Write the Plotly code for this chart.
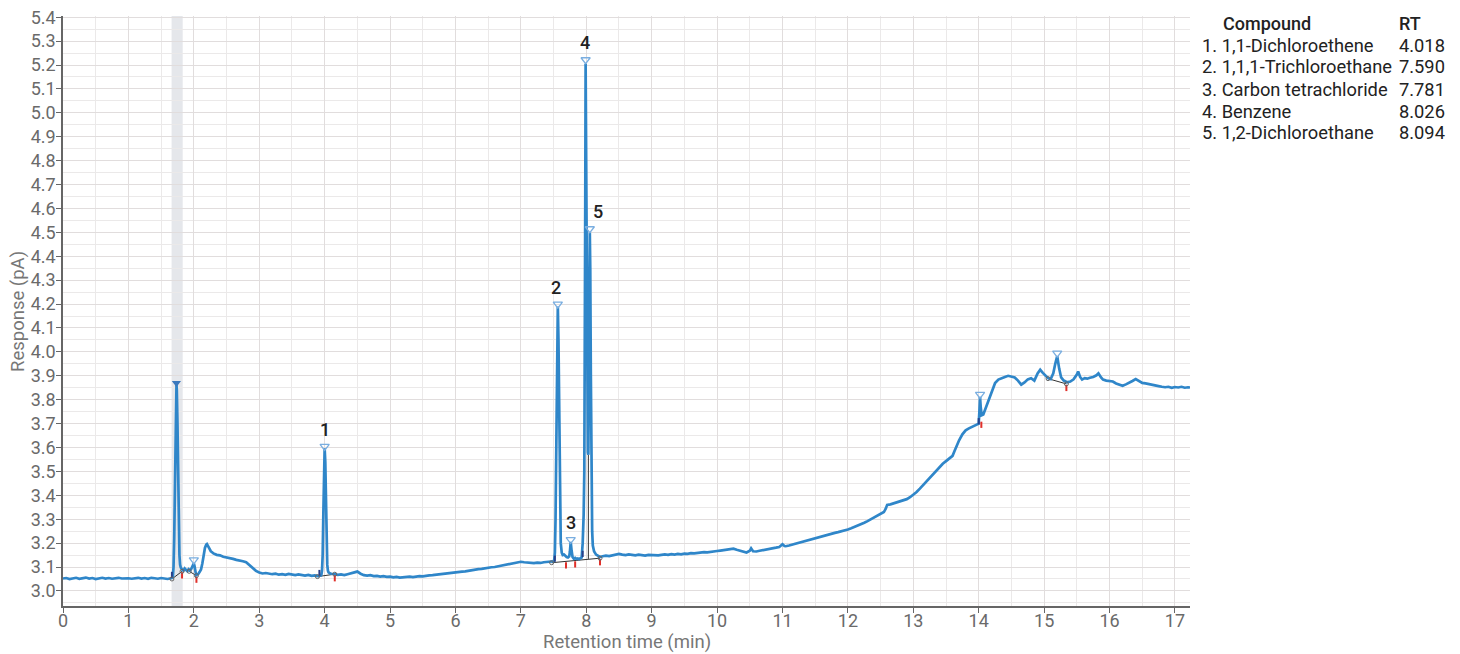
import plotly.graph_objects as go

# ---------------- data ----------------
rt_pre = [0.00,0.05,0.10,0.15,0.20,0.25,0.30,0.35,0.40,0.45,0.50,0.55,0.60,0.65,0.70,0.75,0.80,0.85,0.90,0.95,
          1.00,1.05,1.10,1.15,1.20,1.25,1.30,1.35,1.40,1.45,1.50,1.55,1.60,1.65]
resp_pre = [3.052,3.054,3.050,3.053,3.055,3.051,3.053,3.056,3.052,3.054,3.050,3.053,3.055,3.052,3.054,3.051,3.053,3.055,3.052,3.054,
            3.053,3.051,3.054,3.055,3.052,3.054,3.051,3.055,3.053,3.051,3.054,3.052,3.050,3.053]

rt_inj = [1.67,1.68,1.69,1.70,1.71,1.72,1.73,1.735,1.74,1.75,1.76,1.77,1.78,1.79,1.80,1.82,1.84,1.86,1.88,1.90,
          1.92,1.94,1.96,1.975,1.99,2.00,2.01,2.02,2.035,2.05,2.07,2.09,2.11,2.13,2.15,2.17,2.19,2.20,2.22,2.24,
          2.26,2.28,2.30]
resp_inj = [3.055,3.062,3.10,3.22,3.42,3.66,3.83,3.862,3.84,3.70,3.48,3.26,3.15,3.11,3.098,3.090,3.085,3.094,3.090,3.083,
            3.091,3.086,3.092,3.100,3.112,3.116,3.105,3.080,3.066,3.068,3.072,3.080,3.090,3.115,3.150,3.180,3.194,3.196,3.186,3.174,
            3.166,3.162,3.157]

rt_hump = [2.35,2.40,2.45,2.50,2.55,2.60,2.65,2.70,2.75,2.80,2.85,2.90,2.95,3.00,3.05,3.10,3.15,3.20,3.25,3.30,
           3.35,3.40,3.45,3.50,3.55,3.60,3.65,3.70,3.75,3.80,3.85,3.90,3.94]
resp_hump = [3.151,3.149,3.143,3.141,3.136,3.134,3.130,3.128,3.124,3.120,3.108,3.094,3.084,3.077,3.073,3.075,3.071,3.070,3.072,3.068,
             3.070,3.067,3.071,3.068,3.066,3.069,3.066,3.064,3.067,3.063,3.065,3.062,3.064]

rt_p1 = [3.95,3.96,3.97,3.98,3.99,4.00,4.01,4.02,4.03,4.04,4.05,4.06,4.08,4.10]
resp_p1 = [3.068,3.085,3.15,3.32,3.52,3.597,3.54,3.38,3.20,3.11,3.085,3.078,3.074,3.072]

rt_mid = [4.15,4.20,4.25,4.30,4.35,4.40,4.45,4.50,4.55,4.60,4.65,4.70,4.75,4.80,4.85,4.90,4.95,5.00,5.05,5.10,
          5.15,5.20,5.25,5.30,5.35,5.40,5.45,5.50,5.55,5.60,5.65,5.70,5.75,5.80,5.85,5.90,5.95,6.00,6.05,6.10,
          6.15,6.20,6.25,6.30,6.35,6.40,6.45,6.50,6.55,6.60,6.65,6.70,6.75,6.80,6.85,6.90,6.95,7.00,7.05,7.10,
          7.15,7.20,7.25,7.30,7.35,7.40,7.45,7.50]
resp_mid = [3.071,3.067,3.069,3.066,3.070,3.073,3.079,3.081,3.072,3.066,3.064,3.066,3.062,3.063,3.060,3.062,3.059,3.060,3.057,3.059,
            3.056,3.058,3.057,3.060,3.058,3.061,3.062,3.061,3.064,3.065,3.066,3.068,3.070,3.071,3.074,3.073,3.076,3.077,3.079,3.081,
            3.082,3.085,3.086,3.089,3.091,3.092,3.095,3.096,3.099,3.100,3.103,3.106,3.108,3.111,3.114,3.118,3.121,3.122,3.120,3.118,
            3.115,3.116,3.118,3.117,3.120,3.122,3.123,3.124]

rt_cluster = [7.51,7.52,7.53,7.545,7.555,7.565,7.575,7.585,7.595,7.61,7.625,7.64,7.66,7.68,7.70,7.72,7.74,7.75,7.762,7.775,
              7.79,7.81,7.83,7.85,7.87,7.89,7.91,7.93,7.945,7.96,7.97,7.978,7.984,7.99,7.996,8.003,8.012,8.025,8.032,8.04,
              8.047,8.054,8.061,8.07,8.08,8.09,8.10,8.12,8.15,8.18,8.21]
resp_cluster = [3.130,3.160,3.300,3.700,4.050,4.190,4.050,3.700,3.400,3.200,3.160,3.150,3.152,3.145,3.142,3.140,3.145,3.165,3.205,3.170,
                3.142,3.135,3.138,3.134,3.136,3.133,3.138,3.140,3.200,3.320,3.500,3.900,4.600,5.205,4.900,4.300,3.800,3.580,3.570,3.780,
                4.250,4.499,4.350,3.900,3.450,3.250,3.190,3.165,3.152,3.147,3.142]

rt_late = [8.25,8.30,8.35,8.40,8.45,8.50,8.55,8.60,8.65,8.70,8.75,8.80,8.85,8.90,8.95,9.00,9.05,9.10,9.15,9.20,
           9.25,9.30,9.35,9.40,9.45,9.50,9.55,9.60,9.65,9.70,9.75,9.80,9.85,9.90,9.95,10.00,10.05,10.10,10.15,10.20,
           10.25,10.30,10.35,10.40,10.45,10.50,10.52,10.55,10.60,10.65,10.70,10.75,10.80,10.85,10.90,10.95,11.00,11.03,11.05,11.10,
           11.15,11.20,11.25,11.30,11.35,11.40,11.45,11.50,11.55,11.60,11.65,11.70,11.75,11.80,11.85,11.90,11.95,12.00,12.05,12.10,
           12.15,12.20,12.25,12.30,12.35,12.40,12.45,12.50,12.55,12.58,12.60,12.65,12.70,12.75,12.80,12.85,12.90,12.95,13.00,13.05,
           13.10,13.15,13.20,13.25,13.30,13.35,13.40,13.45,13.50,13.55,13.60,13.63,13.66,13.70,13.75,13.80,13.85,13.90,13.95,14.00,
           14.01,14.02,14.03,14.045,14.07,14.10,14.15,14.20,14.25,14.30,14.35,14.40,14.45,14.50,14.55,14.60,14.65,14.70,14.75,14.80,
           14.85,14.90,14.94,14.98,15.02,15.06,15.10,15.14,15.17,15.20,15.23,15.26,15.30,15.35,15.40,15.45,15.50,15.52,15.55,15.58,
           15.62,15.66,15.70,15.75,15.80,15.83,15.87,15.90,15.95,16.00,16.05,16.10,16.15,16.20,16.25,16.30,16.35,16.40,16.45,16.50,
           16.55,16.60,16.65,16.70,16.75,16.80,16.85,16.90,16.95,17.00,17.05,17.10,17.15,17.20,17.23]
resp_late = [3.145,3.148,3.146,3.150,3.152,3.155,3.152,3.150,3.153,3.151,3.149,3.152,3.150,3.148,3.151,3.150,3.152,3.149,3.151,3.153,
             3.151,3.154,3.152,3.155,3.153,3.156,3.155,3.158,3.157,3.159,3.160,3.162,3.161,3.164,3.165,3.167,3.169,3.171,3.173,3.176,
             3.177,3.172,3.168,3.165,3.161,3.168,3.178,3.166,3.165,3.168,3.170,3.172,3.175,3.178,3.181,3.184,3.195,3.188,3.187,3.190,
             3.194,3.197,3.200,3.204,3.208,3.212,3.216,3.220,3.225,3.229,3.232,3.236,3.240,3.243,3.246,3.249,3.253,3.257,3.262,3.267,
             3.272,3.278,3.285,3.292,3.300,3.308,3.316,3.324,3.330,3.345,3.360,3.362,3.366,3.370,3.374,3.378,3.384,3.392,3.402,3.414,
             3.428,3.443,3.460,3.475,3.490,3.506,3.520,3.532,3.543,3.555,3.565,3.585,3.605,3.630,3.655,3.672,3.680,3.686,3.692,3.700,
             3.750,3.812,3.770,3.735,3.738,3.760,3.790,3.830,3.870,3.884,3.888,3.895,3.900,3.898,3.893,3.880,3.863,3.872,3.885,3.890,
             3.880,3.910,3.925,3.912,3.900,3.890,3.886,3.910,3.950,3.982,3.930,3.893,3.880,3.873,3.876,3.885,3.905,3.918,3.895,3.884,
             3.890,3.888,3.892,3.895,3.902,3.910,3.893,3.884,3.880,3.878,3.876,3.868,3.862,3.858,3.864,3.870,3.878,3.886,3.878,3.870,
             3.868,3.866,3.862,3.860,3.857,3.854,3.852,3.854,3.850,3.853,3.851,3.854,3.850,3.852,3.851]

# labelled peaks
peak_numbers = ["1", "2", "3", "4", "5"]
peak_rt_plot = [4.00, 7.565, 7.762, 7.99, 8.054]
peak_marker_y = [3.605, 4.200, 3.215, 5.222, 4.515]
compounds = ["1,1-Dichloroethene", "1,1,1-Trichloroethane", "Carbon tetrachloride", "Benzene", "1,2-Dichloroethane"]
rt_table = ["4.018", "7.590", "7.781", "8.026", "8.094"]

# unlabelled detected peaks
other_peak_rt = [2.00, 14.02, 15.20]
other_peak_y = [3.130, 3.822, 3.995]
solvent_peak_rt = [1.734]
solvent_peak_y = [3.870]

# integration baselines (start, end) and drop line
base_t0 = [1.665, 1.93, 3.89, 7.47, 15.06]
base_v0 = [3.050, 3.082, 3.060, 3.118, 3.888]
base_t1 = [1.82, 2.04, 4.155, 8.21, 15.34]
base_v1 = [3.082, 3.064, 3.070, 3.137, 3.866]
red_tick_t = [1.82, 2.04, 4.155, 7.69, 7.83, 8.21, 14.04, 15.34]
red_tick_v = [3.082, 3.064, 3.070, 3.124, 3.128, 3.137, 3.712, 3.866]
blue_tick_t = [1.665, 3.92, 7.52, 7.945, 14.00]
blue_tick_v = [3.062, 3.070, 3.130, 3.150, 3.705]
drop_t = [8.032]
drop_v = [3.134, 3.570]

band_range = [1.66, 1.83]

# ---------------- figure ----------------
# the page body adds an 8 px margin, so the figure is 8 px smaller and positions are given in screen px
OFF = 8
W, H = 1460 - OFF, 654 - OFF
L, T = 63 - OFF, 16 - OFF
R = W - (1190 - OFF)
B = H - (606 - OFF)
PW, PH = W - L - R, H - T - B

def px(xs):
    return (xs - OFF - L) / PW

def py(ys):
    return (H - B - (ys - OFF)) / PH

rt_all = rt_pre + rt_inj + rt_hump + rt_p1 + rt_mid + rt_cluster + rt_late
resp_all = resp_pre + resp_inj + resp_hump + resp_p1 + resp_mid + resp_cluster + resp_late

fig = go.Figure()

# integration baselines
bx, by = [], []
for a, b, c, d in zip(base_t0, base_v0, base_t1, base_v1):
    bx += [a, c, None]
    by += [b, d, None]
bx += [drop_t[0], drop_t[0], None]
by += [drop_v[0], drop_v[1], None]
fig.add_trace(go.Scatter(x=bx, y=by, mode="lines", line=dict(color="#333333", width=1),
                         hoverinfo="skip", showlegend=False))

# chromatogram
fig.add_trace(go.Scatter(x=rt_all, y=resp_all, mode="lines",
                         line=dict(color="#2f86c9", width=2.7), showlegend=False))

# tick marks (red = peak end, dark blue = peak start)
rx, ry = [], []
for t, v in zip(red_tick_t, red_tick_v):
    rx += [t, t, None]
    ry += [v - 0.004, v - 0.030, None]
fig.add_trace(go.Scatter(x=rx, y=ry, mode="lines", line=dict(color="#e0302a", width=2),
                         hoverinfo="skip", showlegend=False))
nx, ny = [], []
for t, v in zip(blue_tick_t, blue_tick_v):
    nx += [t, t, None]
    ny += [v - 0.008, v + 0.018, None]
fig.add_trace(go.Scatter(x=nx, y=ny, mode="lines", line=dict(color="#28408a", width=2),
                         hoverinfo="skip", showlegend=False))

# baseline end circles
fig.add_trace(go.Scatter(x=base_t0 + base_t1, y=base_v0 + base_v1, mode="markers",
                         marker=dict(symbol="circle-open", size=4, color="#666666", line=dict(width=1)),
                         hoverinfo="skip", showlegend=False))

# peak apex markers
fig.add_trace(go.Scatter(x=peak_rt_plot + other_peak_rt, y=peak_marker_y + other_peak_y, mode="markers",
                         marker=dict(symbol="triangle-down-open", size=8, color="#7aaee0", line=dict(width=1.3)),
                         showlegend=False))
fig.add_trace(go.Scatter(x=solvent_peak_rt, y=solvent_peak_y, mode="markers",
                         marker=dict(symbol="triangle-down", size=8, color="#3a78bd"),
                         showlegend=False))

label_xshift = [0, -2, 0, -1, 8]
for n, t, y, xs in zip(peak_numbers, peak_rt_plot, peak_marker_y, label_xshift):
    fig.add_annotation(x=t, y=y, text=n, showarrow=False, yshift=17, xshift=xs,
                       font=dict(family="Roboto", size=18, color="#222222", weight=500))

# gray band
fig.add_shape(type="rect", xref="x", yref="y domain", x0=band_range[0], x1=band_range[1], y0=0, y1=1,
              fillcolor="#e5e7eb", line=dict(width=0), layer="below")

# compound table
tfont = dict(family="Roboto", size=18.3, color="#222222")
fig.add_annotation(xref="paper", yref="paper", x=px(1221), y=py(23), text="Compound", showarrow=False,
                   xanchor="left", yanchor="middle", font=dict(tfont, size=18, weight=500))
fig.add_annotation(xref="paper", yref="paper", x=px(1397), y=py(23), text="RT", showarrow=False,
                   xanchor="left", yanchor="middle", font=dict(tfont, size=18, weight=500))
for i, (n, c, r) in enumerate(zip(peak_numbers, compounds, rt_table)):
    yy = py(45 + 22 * i)
    fig.add_annotation(xref="paper", yref="paper", x=px(1200), y=yy, text=f"{n}. {c}", showarrow=False,
                       xanchor="left", yanchor="middle", font=tfont)
    fig.add_annotation(xref="paper", yref="paper", x=px(1397), y=yy, text=r, showarrow=False,
                       xanchor="left", yanchor="middle", font=tfont)

# axis titles
fig.add_annotation(xref="paper", yref="paper", x=px(627), y=py(642), text="Retention time (min)",
                   showarrow=False, xanchor="center", yanchor="middle",
                   font=dict(family="Roboto", size=18.5, color="#777777"))
fig.add_annotation(xref="paper", yref="paper", x=px(18), y=py(312), text="Response (pA)", textangle=-90,
                   showarrow=False, xanchor="center", yanchor="middle",
                   font=dict(family="Roboto", size=18.5, color="#777777"))

axis_common = dict(showline=True, linecolor="#666666", linewidth=1.5, ticks="outside", ticklen=5,
                   tickcolor="#666666", tickwidth=1.3, zeroline=False, automargin=False,
                   ticklabeloverflow="allow",
                   tickfont=dict(family="Roboto", size=18, color="#6a6a6a"),
                   gridcolor="#e1dddd", gridwidth=1)

fig.update_xaxes(range=[0, 17.23], dtick=1, tick0=0, ticklabelstandoff=-7,
                 minor=dict(dtick=0.5, showgrid=True, gridcolor="#ebe9e9", ticks=""), **axis_common)
fig.update_yaxes(range=[2.937, 5.405], dtick=0.1, tick0=3.0, tickformat=".1f", ticklabelstandoff=-3,
                 minor=dict(dtick=0.05, showgrid=True, gridcolor="#ebe9e9", ticks=""), **axis_common)

fig.update_layout(width=W, height=H, margin=dict(l=L, r=R, t=T, b=B, autoexpand=False),
                  plot_bgcolor="white", paper_bgcolor="white", showlegend=False,
                  font=dict(family="Roboto"))

fig.write_html("out.html")
